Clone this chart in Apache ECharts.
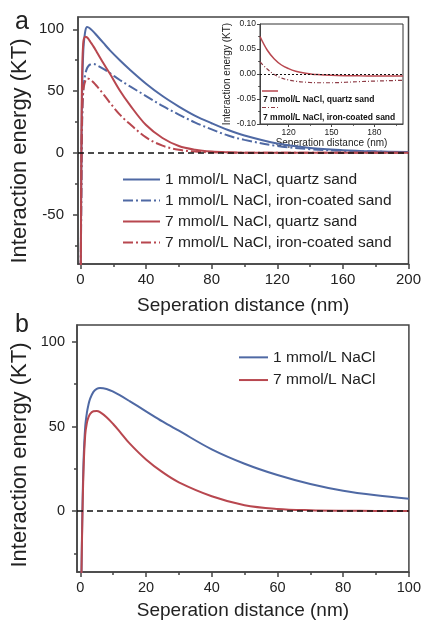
<!DOCTYPE html>
<html>
<head>
<meta charset="utf-8">
<script src="https://cdn.jsdelivr.net/npm/echarts@6/dist/echarts.min.js"></script>
<style>
html, body { margin: 0; padding: 0; background: #fff; }
#chart { width: 424px; height: 623px; }
</style>
</head>
<body>
<div id="chart"></div>
<script>
// panel a, main plot (nm -> KT)
const xA = [0.2, 0.5, 0.8, 1.2, 1.6, 2, 3, 4, 5, 6, 8, 10, 14, 18, 24, 30, 40, 50, 60, 70, 80, 90, 100, 120, 140, 160, 180, 200];
const aQuartz1 = [-95, -20, 30, 62, 78, 88, 99, 102, 101.5, 100.5, 98, 95, 89, 83, 75, 67.5, 56, 46, 37.5, 30, 24, 18.5, 14, 7.5, 4, 2.2, 1.2, 0.6];
const aIron1 = [-95, -40, 5, 35, 48, 55, 64, 68.5, 70.5, 71.5, 72, 71, 68, 64.5, 59, 54, 46, 38, 31, 24.5, 19, 14, 10.5, 5.5, 3, 1.6, 0.9, 0.5];
const aQuartz7 = [-95, -10, 45, 75, 87, 92, 94, 93.5, 92, 90, 86, 81.5, 72.5, 64, 50.5, 39, 22.5, 12, 5.5, 2.5, 1, 0.4, 0.15, 0.05, 0, 0, 0, 0];
const aIron7 = [-95, -30, 15, 38, 48, 53, 58.5, 60, 60, 59.3, 57, 54, 47.5, 40.5, 31, 23.5, 12.5, 5.8, 2.5, 1, 0.4, 0.15, 0.05, 0, 0, 0, 0, 0];

// panel a, inset (100-200 nm)
const xIn = [100, 105, 110, 115, 120, 125, 130, 135, 140, 150, 160, 170, 180, 190, 200];
const inQuartz7 = [0.075, 0.048, 0.030, 0.018, 0.0107, 0.0055, 0.0023, 0.0003, -0.0012, -0.0027, -0.0034, -0.0037, -0.0038, -0.0039, -0.004];
const inIron7 = [0.024, 0.010, -0.001, -0.008, -0.012, -0.0145, -0.016, -0.017, -0.0175, -0.0175, -0.0165, -0.0152, -0.0142, -0.0133, -0.0125];

// panel b
const xB = [0.3, 0.6, 1, 1.5, 2, 2.5, 3, 4, 5, 6, 8, 10, 12, 15, 20, 25, 30, 40, 50, 60, 70, 80, 90, 100];
const bNaCl1 = [-45, -5, 30, 50, 58, 63, 66.5, 70.5, 72.3, 72.8, 72.2, 70.6, 68.5, 65, 59, 53, 47.5, 36.5, 28, 21.3, 16, 12, 9.3, 7.3];
const bNaCl7 = [-45, -8, 25, 45, 52, 55.5, 57.5, 59, 59.2, 58.5, 55.5, 51.5, 47, 40, 30.5, 23, 17, 8.8, 3.5, 1.3, 0.5, 0.2, 0.1, 0.05];

// tick labels
const aXTicks = [0, 40, 80, 120, 160, 200];
const aXMinor = [20, 60, 100, 140, 180];
const aYTicks = [-50, 0, 50, 100];
const aYMinor = [-75, -25, 25, 75];
const inXTicks = [120, 150, 180];
const inXMinor = [105, 135, 165, 195];
const inYTicks = [-0.1, -0.05, 0, 0.05, 0.1];
const inYMinor = [-0.075, -0.025, 0.025, 0.075];
const bXTicks = [0, 20, 40, 60, 80, 100];
const bXMinor = [10, 30, 50, 70, 90];
const bYTicks = [0, 50, 100];
const bYMinor = [-25, 25, 75];

const FONT = '"Liberation Sans", Arial, sans-serif';
const BLUE = '#4f69a4';
const RED = '#b8474f';
const DARKRED = '#8e3b45';
const AXIS = '#444';
const TEXT = '#222';
const DASHDOT = [10, 3, 2, 3];

const zip = (xs, ys) => xs.map((x, i) => [x, ys[i]]);

// one axis for labels + major ticks, a second one (no line) for the minor ticks
function makeAxis(dim, grid, min, max, ticks, minor, o) {
  const pos = dim === 'x' ? 'bottom' : 'left';
  const major = {
    type: 'value', gridIndex: grid, min: min, max: max, position: pos,
    axisLine: { show: true, onZero: false, lineStyle: { color: AXIS, width: o.lw } },
    axisTick: { show: true, customValues: ticks, length: o.tick, lineStyle: { color: AXIS, width: o.lw } },
    axisLabel: {
      customValues: ticks, fontSize: o.fs, color: TEXT, fontFamily: FONT, margin: o.margin,
      formatter: o.fmt
    },
    splitLine: { show: false },
    name: o.name, nameLocation: 'middle', nameGap: o.nameGap,
    nameTextStyle: { fontSize: o.nfs, color: TEXT, fontFamily: FONT }
  };
  const small = {
    type: 'value', gridIndex: grid, min: min, max: max, position: pos,
    axisLine: { show: false, onZero: false },
    axisTick: { show: true, customValues: minor, length: o.tick * 0.6, lineStyle: { color: AXIS, width: o.lw } },
    axisLabel: { show: false },
    splitLine: { show: false }
  };
  return [major, small];
}

const zeroLine = (dash, w) => ({
  silent: true, symbol: 'none', label: { show: false },
  lineStyle: { color: '#111', type: dash, width: w },
  data: [{ yAxis: 0 }]
});

const line = (name, xi, data, color, dash, w) => ({
  name: name, type: 'line', xAxisIndex: xi, yAxisIndex: xi,
  data: data, showSymbol: false, symbol: 'none', smooth: 0.35,
  lineStyle: { color: color, width: w, type: dash }, itemStyle: { color: color }
});

const chart = echarts.init(document.getElementById('chart'));

const xAxes = [].concat(
  makeAxis('x', 0, -1.5, 200, aXTicks, aXMinor, { lw: 1.5, tick: 5, fs: 15, margin: 8, name: 'Seperation distance (nm)', nameGap: 32, nfs: 19 }),
  makeAxis('x', 1, 100, 200, inXTicks, inXMinor, { lw: 1, tick: 3, fs: 8.5, margin: 4, name: 'Seperation distance (nm)', nameGap: 13, nfs: 10 }),
  makeAxis('x', 2, -1, 100, bXTicks, bXMinor, { lw: 1.5, tick: 5, fs: 14.5, margin: 8, name: 'Seperation distance (nm)', nameGap: 29, nfs: 19 })
);
const yAxes = [].concat(
  makeAxis('y', 0, -90, 110, aYTicks, aYMinor, { lw: 1.5, tick: 5, fs: 15, margin: 14 }),
  makeAxis('y', 1, -0.1, 0.1, inYTicks, inYMinor, { lw: 1, tick: 3, fs: 8.5, margin: 4, name: 'Interaction energy (KT)', nameGap: 16, nfs: 10, fmt: v => Number(v).toFixed(2) }),
  makeAxis('y', 2, -36, 110, bYTicks, bYMinor, { lw: 1.5, tick: 5, fs: 14.5, margin: 12 })
);

const nA = ['1 mmol/L NaCl, quartz sand', '1 mmol/L NaCl, iron-coated sand', '7 mmol/L NaCl, quartz sand', '7 mmol/L NaCl, iron-coated sand'];
const nB = ['1 mmol/L NaCl', '7 mmol/L NaCl'];

const sA1 = line(nA[0], 0, zip(xA, aQuartz1), BLUE, 'solid', 2);
sA1.markLine = zeroLine([6, 4], 1.5);
const sB1 = line(nB[0], 4, zip(xB, bNaCl1), BLUE, 'solid', 2);
sB1.markLine = zeroLine([6, 4], 1.5);
const sIn1 = line('inset quartz', 2, zip(xIn, inQuartz7), RED, 'solid', 1.5);
sIn1.markLine = zeroLine([2, 2], 1);

const yTitle = (y) => ({
  type: 'text', x: 20, y: y, rotation: Math.PI / 2, z: 100,
  style: { text: 'Interaction energy (KT)', font: '22px ' + FONT, fill: TEXT, align: 'center', verticalAlign: 'middle' }
});

chart.setOption({
  backgroundColor: '#fff',
  animation: false,
  textStyle: { fontFamily: FONT },
  grid: [
    { left: 78, top: 17, width: 333, height: 247, show: true, borderColor: AXIS, borderWidth: 1.5, backgroundColor: 'transparent' },
    { left: 260, top: 24, width: 143, height: 100, show: true, borderColor: '#333', borderWidth: 1, backgroundColor: '#fff' },
    { left: 77, top: 325, width: 334, height: 247, show: true, borderColor: AXIS, borderWidth: 1.5, backgroundColor: 'transparent' }
  ],
  xAxis: xAxes,
  yAxis: yAxes,
  legend: [
    {
      data: nA, orient: 'vertical', left: 122, top: 169, padding: 0, itemWidth: 37, itemHeight: 14, itemGap: 0,
      itemStyle: { opacity: 0 },
      textStyle: { fontSize: 15.5, color: TEXT, lineHeight: 21, fontFamily: FONT }
    },
    {
      data: nB, orient: 'vertical', left: 238, top: 346, padding: 0, itemWidth: 29, itemHeight: 14, itemGap: 0,
      itemStyle: { opacity: 0 },
      textStyle: { fontSize: 15.5, color: TEXT, lineHeight: 22.7, fontFamily: FONT }
    }
  ],
  graphic: [
    { type: 'text', left: 15, top: 10, z: 100, style: { text: 'a', font: '25px ' + FONT, fill: TEXT } },
    { type: 'text', left: 15, top: 313, z: 100, style: { text: 'b', font: '25px ' + FONT, fill: TEXT } },
    yTitle(151),
    yTitle(455),
    // inset legend: sample line above each label
    { type: 'line', z: 100, shape: { x1: 262, y1: 91, x2: 278, y2: 91 }, style: { stroke: RED, lineWidth: 1.5 } },
    { type: 'text', z: 100, x: 263, y: 100, style: { text: '7 mmol/L NaCl, quartz sand', font: 'bold 8.5px ' + FONT, fill: '#111', verticalAlign: 'middle' } },
    { type: 'line', z: 100, shape: { x1: 262, y1: 107.5, x2: 278, y2: 107.5 }, style: { stroke: DARKRED, lineWidth: 1.2, lineDash: [4, 2, 1, 2] } },
    { type: 'text', z: 100, x: 263, y: 118, style: { text: '7 mmol/L NaCl, iron-coated sand', font: 'bold 8.5px ' + FONT, fill: '#111', verticalAlign: 'middle' } }
  ],
  series: [
    sA1,
    line(nA[1], 0, zip(xA, aIron1), BLUE, DASHDOT, 2),
    line(nA[2], 0, zip(xA, aQuartz7), RED, 'solid', 2),
    line(nA[3], 0, zip(xA, aIron7), RED, DASHDOT, 2),
    sIn1,
    line('inset iron', 2, zip(xIn, inIron7), DARKRED, [4, 2, 1, 2], 1.2),
    sB1,
    line(nB[1], 4, zip(xB, bNaCl7), RED, 'solid', 2)
  ]
});
</script>
</body>
</html>
